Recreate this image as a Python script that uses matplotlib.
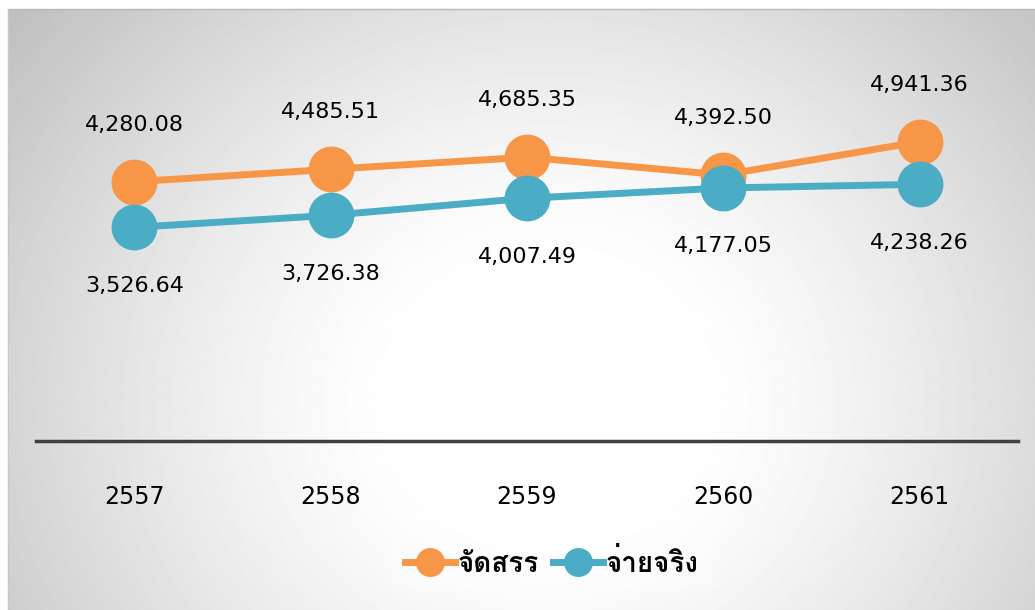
import numpy as np
import matplotlib
matplotlib.use("Agg")
import matplotlib.pyplot as plt
from matplotlib import font_manager

# Data
years = ["2557", "2558", "2559", "2560", "2561"]
allocated = [4280.08, 4485.51, 4685.35, 4392.50, 4941.36]
spent = [3526.64, 3726.38, 4007.49, 4177.05, 4238.26]
series_names = ["จัดสรร", "จ่ายจริง"]

# Find any installed family that can draw Thai
thai_fams = []
for f in font_manager.fontManager.ttflist:
    n = f.name
    if ("Thai" in n or n in ("Loma", "Garuda", "Norasi", "Kinnari", "Waree", "Sawasdee",
                              "Tlwg Typo", "Umpush", "Laksaman", "FreeSans")) and n not in thai_fams:
        thai_fams.append(n)
plt.rcParams['font.family'] = ['DejaVu Sans'] + thai_fams

orange = '#f79646'
blue = '#4bacc6'

fig = plt.figure(figsize=(10.35, 6.1), dpi=100)

# Radial gradient background inside the frame
W, H = 1035, 610
bg = fig.add_axes([8 / W, 0, 1 - 8 / W, 1 - 9 / H])
yy, xx = np.mgrid[0:600, 0:1027]
d = np.sqrt(((xx - 540) / 1.0) ** 2 + ((yy - 390) / 0.9) ** 2)
val = np.clip(1.0 - 0.23 * np.clip((d - 150) / 500, 0, 1.2) ** 1.3, 0.75, 1.0)
bg.imshow(val, cmap='gray', vmin=0, vmax=1, aspect='auto', extent=[0, 1, 0, 1], origin='upper')
bg.set_axis_off()
fig.add_artist(plt.Line2D([8 / W, 1], [1 - 9 / H, 1 - 9 / H], transform=fig.transFigure,
                          color='#b8b8b8', lw=1))
fig.add_artist(plt.Line2D([8 / W, 8 / W], [0, 1 - 9 / H], transform=fig.transFigure,
                          color='#c8c8c8', lw=1))

# Plot area: x from 36 to 1018 px, zero line at y=441
ax = fig.add_axes([36 / W, (H - 441) / H, (1018 - 36) / W, (441 - 17) / H])
ax.patch.set_alpha(0)
x = np.arange(len(years))
ax.plot(x, allocated, color=orange, lw=5, marker='o', ms=32, label=series_names[0], zorder=3)
ax.plot(x, spent, color=blue, lw=5, marker='o', ms=32, label=series_names[1], zorder=4)

for xi, v in zip(x, allocated):
    ax.annotate(f"{v:,.2f}", (xi, v), xytext=(0, 41), textcoords='offset points',
                ha='center', va='center', fontsize=16)
for xi, v in zip(x, spent):
    ax.annotate(f"{v:,.2f}", (xi, v), xytext=(0, -42), textcoords='offset points',
                ha='center', va='center', fontsize=16)

ax.set_xlim(-0.5, 4.5)
ax.set_ylim(0, 7000)
ax.set_yticks([])
ax.set_xticks(x)
ax.set_xticklabels(years, fontsize=17)
ax.tick_params(axis='x', length=0, pad=32)
for s in ['top', 'right', 'left']:
    ax.spines[s].set_visible(False)
ax.spines['bottom'].set_color('#404040')
ax.spines['bottom'].set_linewidth(2.5)

leg = ax.legend(loc='center', bbox_to_anchor=(552 / W, 1 - 563 / H), bbox_transform=fig.transFigure,
                ncol=2, frameon=True, fontsize=20, markerscale=0.62, handlelength=1.8,
                handletextpad=0.1, columnspacing=0.5, borderpad=0.5)
leg.get_frame().set_facecolor('white')
leg.get_frame().set_alpha(0.3)
leg.get_frame().set_edgecolor('none')
for t in leg.get_texts():
    t.set_fontweight('bold')

fig.savefig("out.png", dpi=100)
